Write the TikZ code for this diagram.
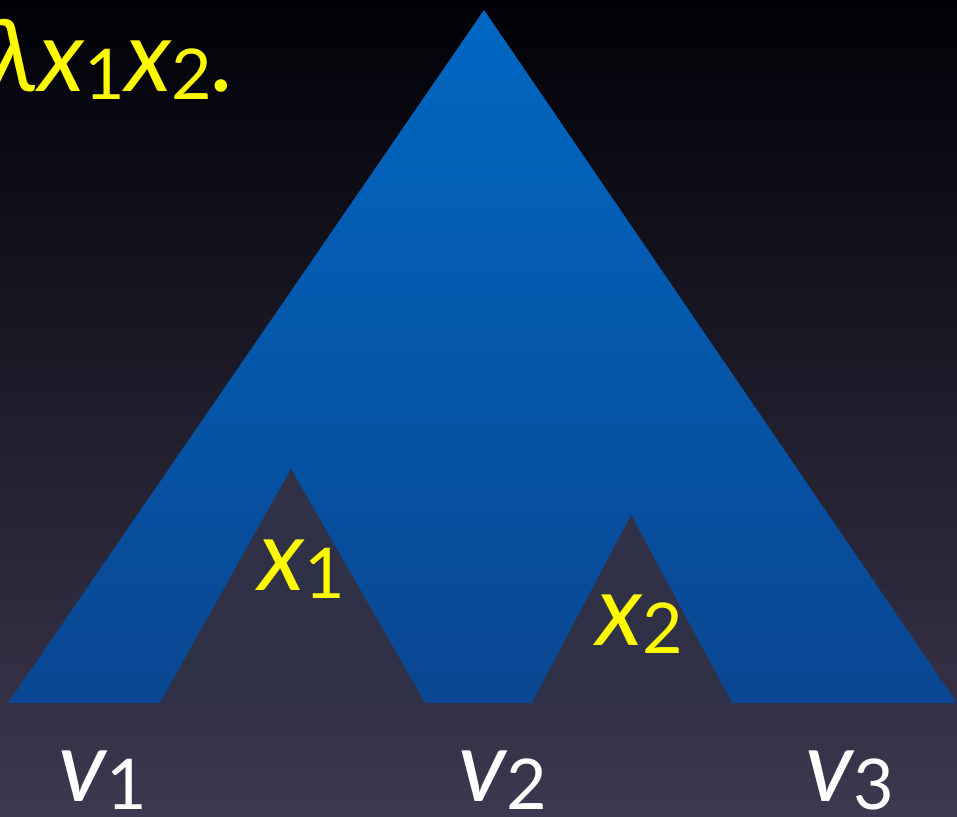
\documentclass[tikz,border=0pt]{standalone}
\usepackage{fontspec}
\setmainfont{Lato}
\usepackage{graphicx}
\newcommand{\lsub}[1]{\raisebox{-0.08em}{\scalebox{0.7}{\upshape #1}}}
\definecolor{bgtop}{RGB}{0,0,6}
\definecolor{bgbot}{RGB}{62,56,80}
\definecolor{bluetop}{RGB}{0,103,194}
\definecolor{bluebot}{RGB}{10,70,145}
\definecolor{holecol}{RGB}{48,48,70}
\definecolor{labyellow}{RGB}{255,250,0}
\tikzset{
  lab/.style={inner sep=0pt, font=\fontsize{100}{110}\selectfont\itshape, anchor=base west},
  ylab/.style={lab, text=labyellow},
  wlab/.style={lab, text=white},
  hole/.style={fill=holecol, draw=none}
}
\begin{document}
\begin{tikzpicture}[x=1pt,y=-1pt]
\useasboundingbox (0,0) rectangle (957,816);
\clip (0,0) rectangle (957,816);
\shade[top color=bgtop, bottom color=bgbot] (0,0) rectangle (957,816);
% big tree triangle
\shade[top color=bluetop, bottom color=bluebot] (484,10) -- (957,703) -- (8,703) -- cycle;
% subtrees (holes)
\fill[hole] (291,469) -- (425,703) -- (160,703) -- cycle;
\fill[hole] (631,515) -- (732,703) -- (532,703) -- cycle;
% labels
\node[ylab] (title) at (-12,91) {λx\lsub{1}x\lsub{2}.};
\node[ylab] (x1) at (258,590) {x\lsub{1}};
\node[ylab] (x2) at (596,645) {x\lsub{2}};
\node[wlab] (v1) at (58,801) {v\lsub{1}};
\node[wlab] (v2) at (458,801) {v\lsub{2}};
\node[wlab] (v3) at (805,801) {v\lsub{3}};
\end{tikzpicture}
\end{document}
